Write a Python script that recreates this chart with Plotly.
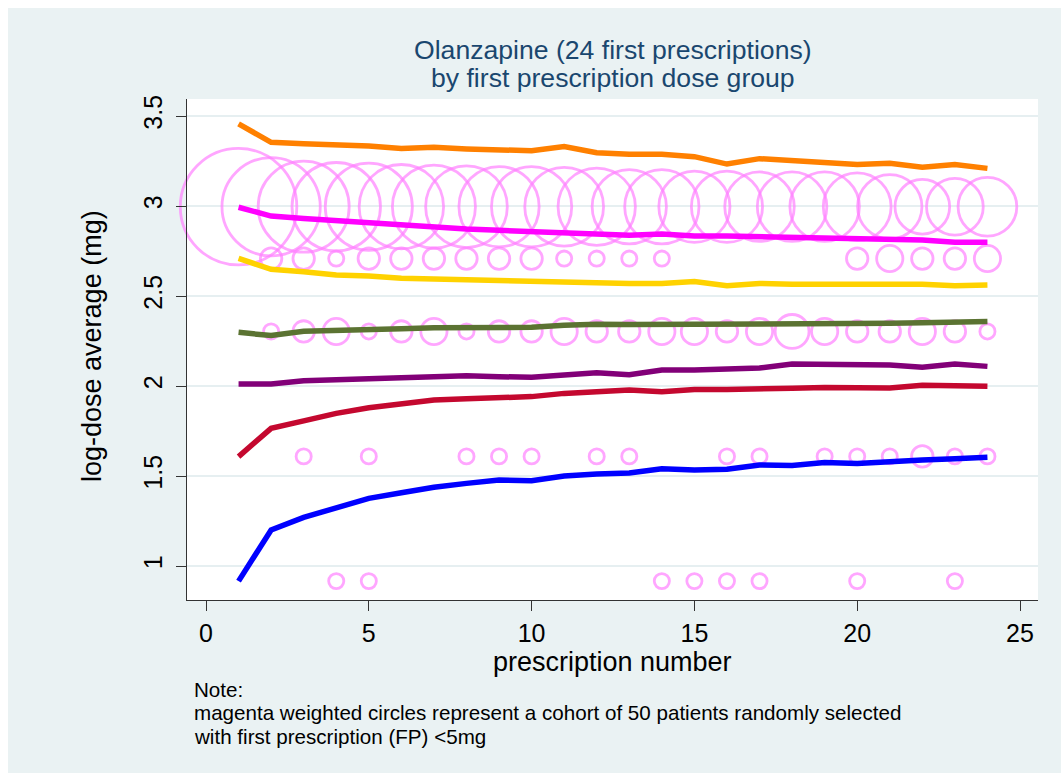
import plotly.graph_objects as go

# ---------------- data ----------------
presc = [1, 2, 3, 4, 5, 6, 7, 8, 9, 10, 11, 12, 13, 14, 15, 16, 17, 18, 19, 20, 21, 22, 23, 24]

grp_orange = [3.456, 3.354, 3.346, 3.341, 3.333, 3.320, 3.326, 3.317, 3.313, 3.307, 3.330, 3.296,
              3.287, 3.287, 3.274, 3.233, 3.263, 3.252, 3.248, 3.230, 3.237, 3.215, 3.230, 3.209]
grp_magenta = [2.993, 2.944, 2.930, 2.917, 2.907, 2.893, 2.881, 2.872, 2.865, 2.859, 2.856, 2.848,
               2.837, 2.844, 2.833, 2.833, 2.830, 2.828, 2.824, 2.824, 2.817, 2.811, 2.798, 2.798]
grp_yellow = [2.709, 2.648, 2.635, 2.617, 2.611, 2.598, 2.594, 2.589, 2.589, 2.585, 2.580, 2.574,
              2.570, 2.570, 2.580, 2.557, 2.570, 2.565, 2.565, 2.565, 2.565, 2.565, 2.557, 2.561]
grp_olive = [2.298, 2.280, 2.304, 2.311, 2.317, 2.318, 2.324, 2.324, 2.326, 2.326, 2.337, 2.343,
             2.341, 2.341, 2.344, 2.348, 2.348, 2.348, 2.348, 2.348, 2.348, 2.352, 2.354, 2.359]
grp_purple = [2.011, 2.011, 2.029, 2.035, 2.037, 2.041, 2.046, 2.057, 2.052, 2.048, 2.061, 2.074,
              2.063, 2.089, 2.089, 2.094, 2.100, 2.122, 2.122, 2.115, 2.117, 2.104, 2.122, 2.109]
grp_red = [1.608, 1.765, 1.806, 1.848, 1.879, 1.904, 1.922, 1.929, 1.935, 1.941, 1.959, 1.972,
           1.978, 1.968, 1.981, 1.981, 1.981, 1.987, 1.992, 1.992, 1.989, 2.004, 2.004, 1.998]
grp_blue = [0.916, 1.200, 1.270, 1.326, 1.376, 1.407, 1.437, 1.459, 1.478, 1.474, 1.500, 1.511,
            1.517, 1.540, 1.533, 1.537, 1.561, 1.559, 1.575, 1.569, 1.582, 1.589, 1.596, 1.604]

# cohort circles: log-dose level, prescription numbers, patient weights
c20_logdose = 2.996
c20_presc = [1, 2, 3, 4, 5, 6, 7, 8, 9, 10, 11, 12, 13, 14, 15, 16, 17, 18, 19, 20, 21, 22, 23, 24]
c20_n = [59, 42, 36, 34, 33, 31, 30, 29, 28, 28, 27, 26, 24, 24, 22, 22, 21, 21, 21, 20, 18, 13, 14, 15]

c15_logdose = 2.708
c15_presc = [2, 3, 4, 5, 6, 7, 8, 9, 10, 11, 12, 13, 14, 20, 21, 22, 23, 24]
c15_n = [2, 2, 1, 2, 2, 2, 2, 2, 2, 1, 1, 1, 1, 2, 3, 2, 2, 3]

c10_logdose = 2.303
c10_presc = [2, 3, 4, 5, 6, 7, 8, 9, 10, 11, 12, 13, 14, 15, 16, 17, 18, 19, 20, 21, 22, 23, 24]
c10_n = [1, 2, 3, 1, 2, 3, 1, 2, 2, 3, 2, 2, 3, 3, 2, 3, 5, 3, 2, 2, 3, 2, 1]

c5_logdose = 1.609
c5_presc = [3, 5, 8, 9, 10, 12, 13, 16, 17, 19, 20, 21, 22, 23, 24]
c5_n = [1, 1, 1, 1, 1, 1, 1, 1, 1, 1, 1, 1, 2, 1, 1]

c25_logdose = 0.916
c25_presc = [4, 5, 14, 15, 16, 17, 20, 23]
c25_n = [1, 1, 1, 1, 1, 1, 1, 1]

x_ticks = [0, 5, 10, 15, 20, 25]
y_ticks = [1, 1.5, 2, 2.5, 3, 3.5]
y_ticktext = ["1", "1.5", "2", "2.5", "3", "3.5"]

# ---------------- layout geometry (pixels) ----------------
W, H = 1061, 773
PL, PR, PT, PB = 187, 1038, 99, 600
pw, ph = PR - PL, PB - PT


def px_x(px):
    return (px - PL) / pw


def px_y(py):
    return (PB - py) / ph


FONT = "Liberation Sans, Arial, Helvetica, sans-serif"
BG = "#EAF2F3"
CIRCLE = "#FF80FF"

fig = go.Figure()

for lvl, xs, ns in [(c20_logdose, c20_presc, c20_n), (c15_logdose, c15_presc, c15_n),
                    (c10_logdose, c10_presc, c10_n), (c5_logdose, c5_presc, c5_n),
                    (c25_logdose, c25_presc, c25_n)]:
    fig.add_trace(go.Scatter(
        x=xs, y=[lvl] * len(xs), mode="markers", cliponaxis=False, showlegend=False,
        marker=dict(size=ns, sizemode="area", sizeref=2 / 230.0, symbol="circle-open",
                    color=CIRCLE, line=dict(width=2.8, color=CIRCLE)),
        hoverinfo="skip"))

for vals, col in [(grp_orange, "#FF8000"), (grp_magenta, "#FF00FF"), (grp_yellow, "#FFD200"),
                  (grp_olive, "#5B7332"), (grp_purple, "#820078"), (grp_red, "#C4082F"),
                  (grp_blue, "#0000FF")]:
    fig.add_trace(go.Scatter(x=presc, y=vals, mode="lines", showlegend=False,
                             line=dict(color=col, width=5.5), hoverinfo="skip"))

axis_common = dict(showline=True, linecolor="#333333", linewidth=1.2, ticks="outside",
                   ticklen=10, tickwidth=1.2, tickcolor="#333333", zeroline=False,
                   tickfont=dict(family=FONT, size=25, color="#000000"))

fig.update_xaxes(range=[(PL - 206) / 32.56, (PR - 206) / 32.56], tickvals=x_ticks,
                 showgrid=False, ticklabelstandoff=1, **axis_common)
fig.update_yaxes(range=[3 - (PB - 206) / 180.0, 3 + (206 - PT) / 180.0], tickvals=y_ticks,
                 ticktext=y_ticktext, tickangle=-90, showgrid=True, gridcolor="#E6EFF1",
                 gridwidth=2, ticklabelstandoff=4, **axis_common)

annotations = [
    dict(text="Olanzapine (24 first prescriptions)", x=0.5, y=px_y(50), font=dict(size=26.6, color="#1A476F")),
    dict(text="by first prescription dose group", x=0.5, y=px_y(78), font=dict(size=26.6, color="#1A476F")),
    dict(text="prescription number", x=0.5, y=px_y(662), font=dict(size=27, color="#000000")),
    dict(text="log-dose average (mg)", x=px_x(92), y=px_y(346), textangle=-90, font=dict(size=27, color="#000000")),
    dict(text="Note:", x=px_x(193), y=px_y(689), xanchor="left", font=dict(size=20.6, color="#000000")),
    dict(text="magenta weighted circles represent a cohort of 50 patients randomly selected",
         x=px_x(193), y=px_y(712.5), xanchor="left", font=dict(size=20.6, color="#000000")),
    dict(text="with first prescription (FP) <5mg", x=px_x(193), y=px_y(736), xanchor="left",
         font=dict(size=20.6, color="#000000")),
]
for a in annotations:
    a.setdefault("xanchor", "center")
    a["yanchor"] = "middle"
    a["xref"] = "paper"
    a["yref"] = "paper"
    a["showarrow"] = False
    a["borderpad"] = 0
    a["font"]["family"] = FONT
fig.update_layout(annotations=annotations)

# thin white border on top and left of the grey graph region
fig.add_shape(type="rect", xref="paper", yref="paper", x0=px_x(0), x1=px_x(8), y0=px_y(H), y1=px_y(0),
              fillcolor="white", line=dict(width=0), layer="below")
fig.add_shape(type="rect", xref="paper", yref="paper", x0=px_x(0), x1=px_x(W), y0=px_y(8), y1=px_y(0),
              fillcolor="white", line=dict(width=0), layer="below")

fig.update_layout(width=W, height=H, autosize=False,
                  margin=dict(l=PL, r=W - PR, t=PT, b=H - PB, pad=0),
                  paper_bgcolor=BG, plot_bgcolor="white", showlegend=False,
                  font=dict(family=FONT))

fig.write_html("out.html")
